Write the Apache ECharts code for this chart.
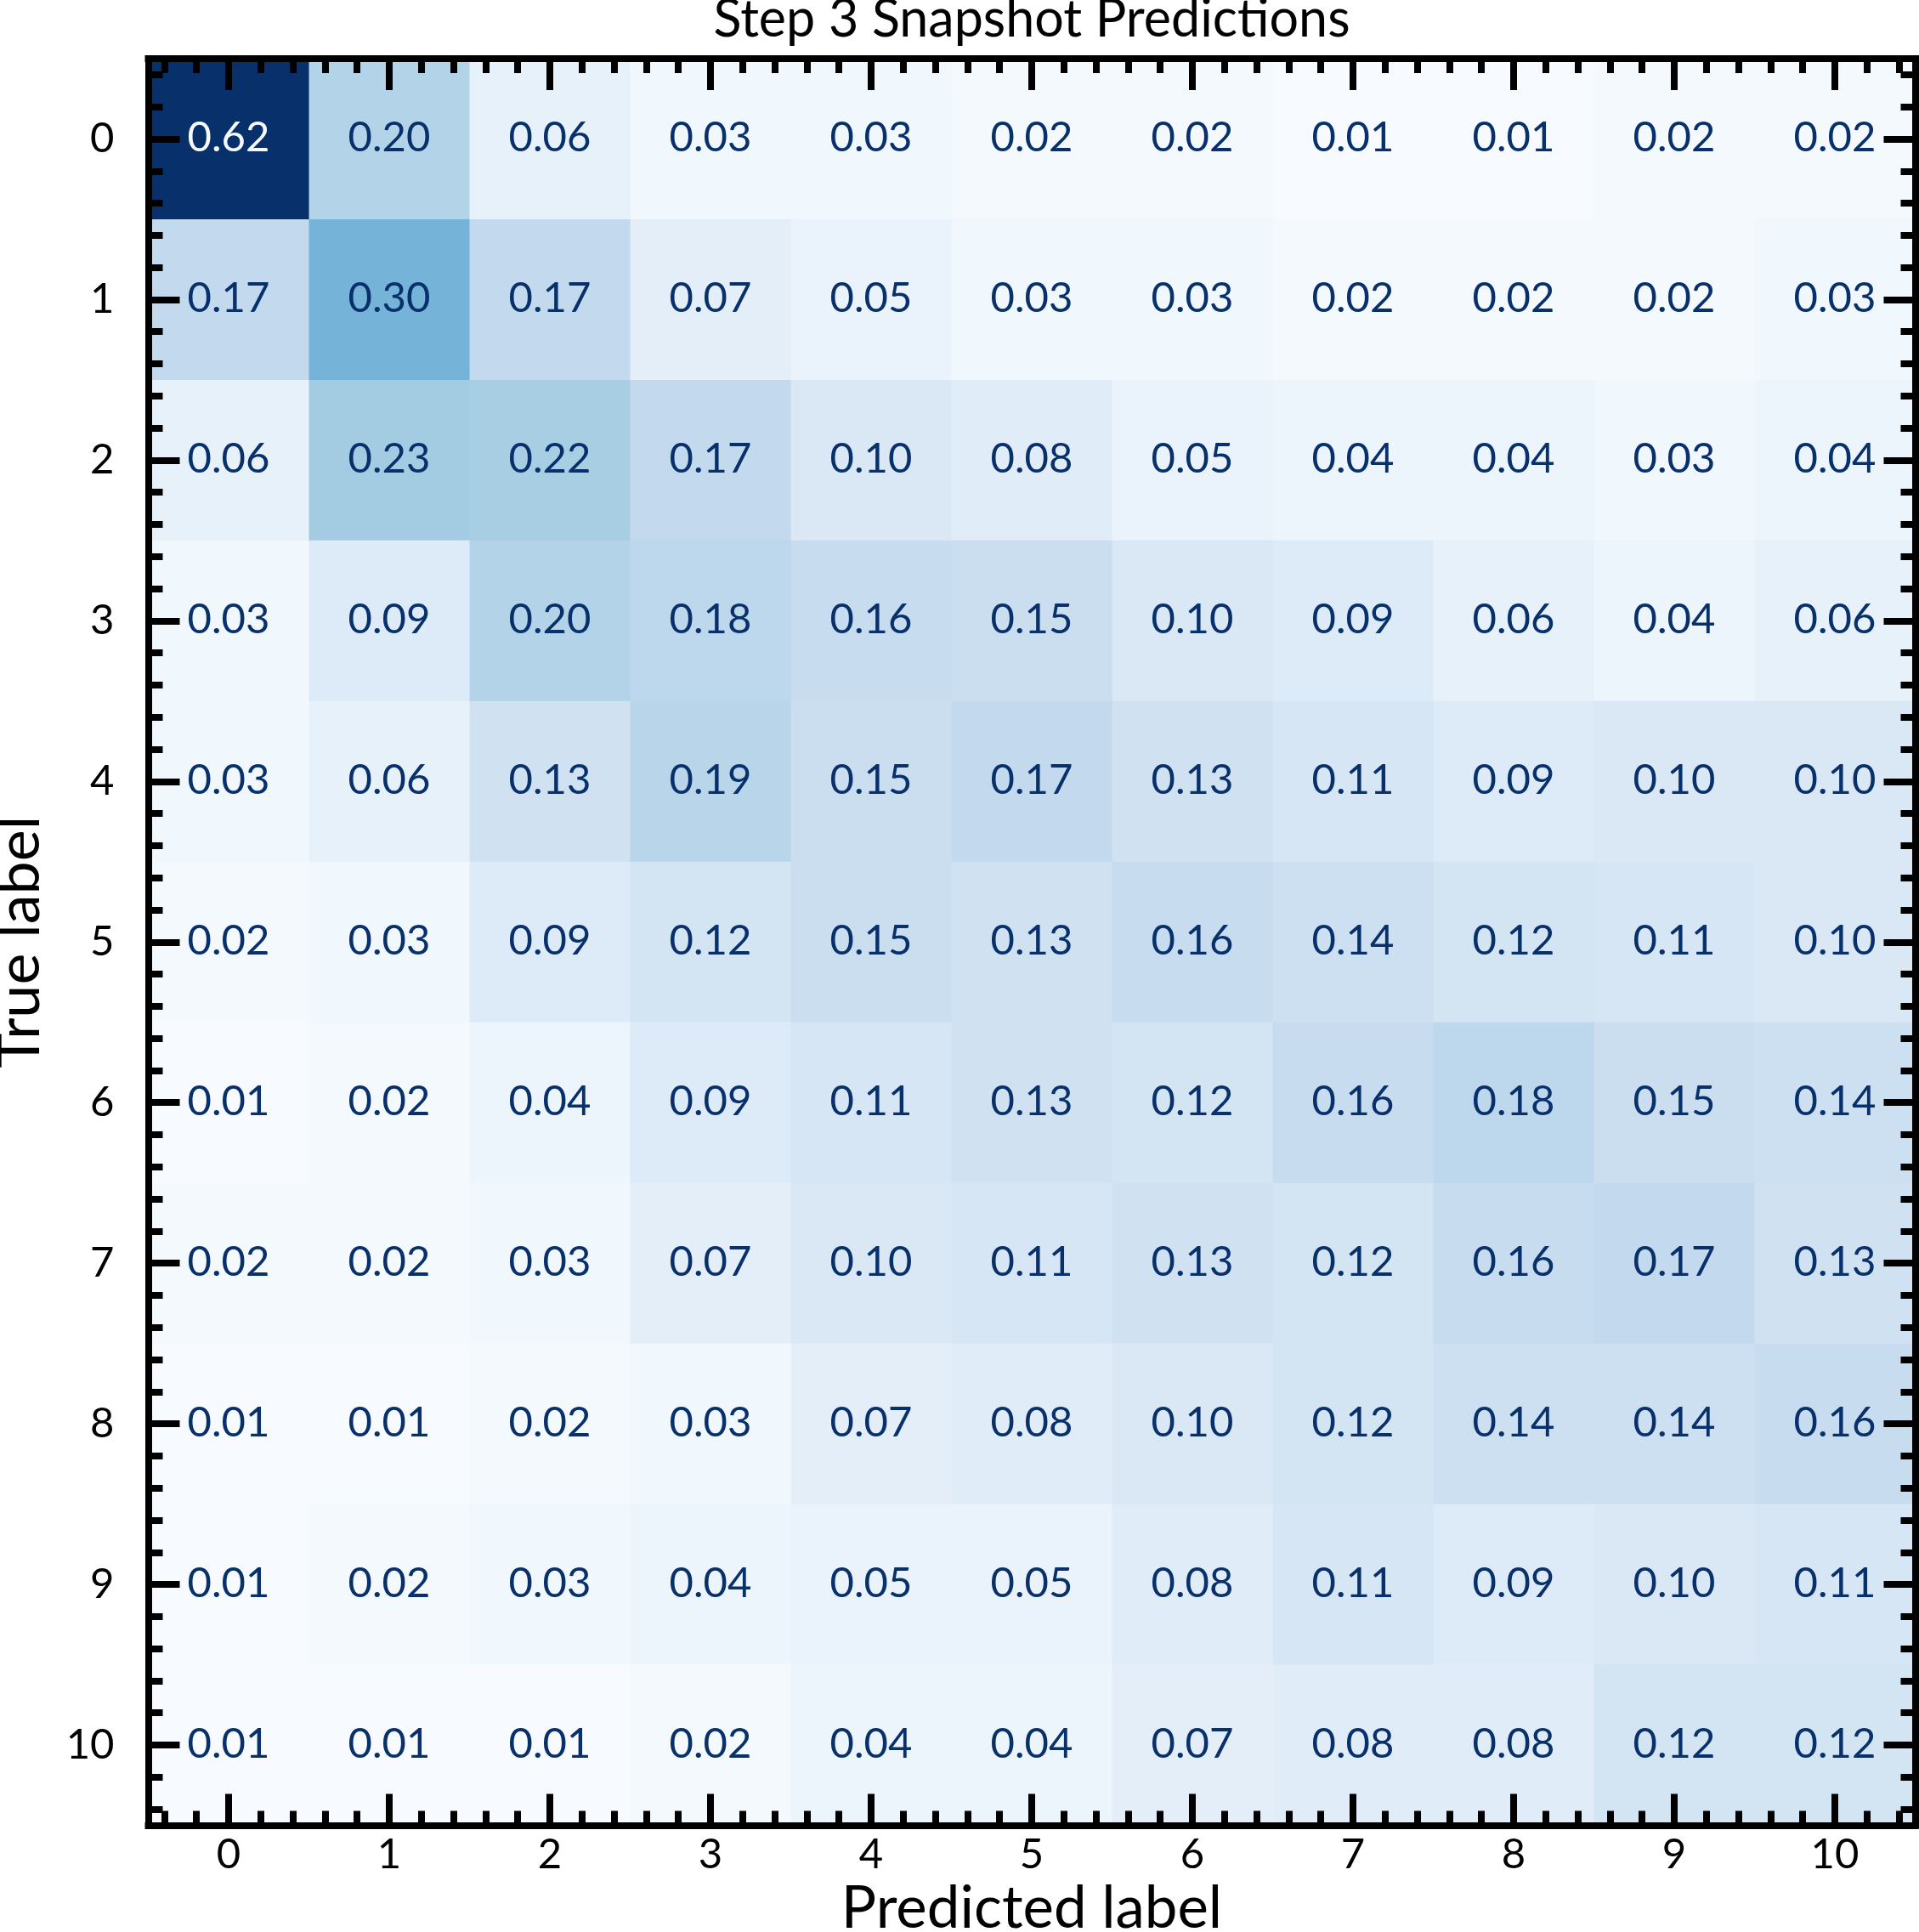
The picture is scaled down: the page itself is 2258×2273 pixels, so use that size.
<!DOCTYPE html>
<html>
<head>
<meta charset="utf-8">
<title>Step 3 Snapshot Predictions</title>
<script src="https://cdn.jsdelivr.net/npm/echarts@6/dist/echarts.min.js"></script>
<style>
html, body { margin: 0; padding: 0; background: #fff; }
#confusion-chart { width: 2258px; height: 2273px; }
</style>
</head>
<body>
<div id="confusion-chart"></div>
<script>
// class labels (same for predicted and true)
var classLabels = ['0', '1', '2', '3', '4', '5', '6', '7', '8', '9', '10'];

// one array per true label, values per predicted label
var row0  = [0.62, 0.20, 0.06, 0.03, 0.03, 0.02, 0.02, 0.01, 0.01, 0.02, 0.02];
var row1  = [0.17, 0.30, 0.17, 0.07, 0.05, 0.03, 0.03, 0.02, 0.02, 0.02, 0.03];
var row2  = [0.06, 0.23, 0.22, 0.17, 0.10, 0.08, 0.05, 0.04, 0.04, 0.03, 0.04];
var row3  = [0.03, 0.09, 0.20, 0.18, 0.16, 0.15, 0.10, 0.09, 0.06, 0.04, 0.06];
var row4  = [0.03, 0.06, 0.13, 0.19, 0.15, 0.17, 0.13, 0.11, 0.09, 0.10, 0.10];
var row5  = [0.02, 0.03, 0.09, 0.12, 0.15, 0.13, 0.16, 0.14, 0.12, 0.11, 0.10];
var row6  = [0.01, 0.02, 0.04, 0.09, 0.11, 0.13, 0.12, 0.16, 0.18, 0.15, 0.14];
var row7  = [0.02, 0.02, 0.03, 0.07, 0.10, 0.11, 0.13, 0.12, 0.16, 0.17, 0.13];
var row8  = [0.01, 0.01, 0.02, 0.03, 0.07, 0.08, 0.10, 0.12, 0.14, 0.14, 0.16];
var row9  = [0.01, 0.02, 0.03, 0.04, 0.05, 0.05, 0.08, 0.11, 0.09, 0.10, 0.11];
var row10 = [0.01, 0.01, 0.01, 0.02, 0.04, 0.04, 0.07, 0.08, 0.08, 0.12, 0.12];

var rows = [row0, row1, row2, row3, row4, row5, row6, row7, row8, row9, row10];

// matplotlib "Blues"
var bluesColors = ['#f7fbff', '#deebf7', '#c6dbef', '#9ecae1', '#6baed6', '#4292c6', '#2171b5', '#08519c', '#08306b'];

var cells = [];
var vMin = Infinity, vMax = -Infinity;
for (var r = 0; r < rows.length; r++) {
    for (var c = 0; c < rows[r].length; c++) {
        cells.push([c, r, rows[r][c]]);
        vMin = Math.min(vMin, rows[r][c]);
        vMax = Math.max(vMax, rows[r][c]);
    }
}
var textThreshold = (vMin + vMax) / 2;

var FONT = 'Lato, "Noto Sans", sans-serif';

function tickLabel(v) {
    return Math.abs(v - Math.round(v)) < 1e-6 ? classLabels[Math.round(v)] || '' : '';
}

function axisBase(extra) {
    var base = {
        type: 'value',
        min: -0.5,
        max: 10.5,
        splitNumber: 11,
        minInterval: 1,
        maxInterval: 1,
        z: 10,
        axisLine: { show: true, onZero: false, lineStyle: { color: '#000', width: 8, cap: 'square' } },
        axisTick: { show: true, inside: true, length: 37, lineStyle: { color: '#000', width: 8 } },
        minorTick: { show: true, splitNumber: 5, length: 17, lineStyle: { color: '#000', width: 8 } },
        splitLine: { show: false },
        minorSplitLine: { show: false },
        axisLabel: { show: false }
    };
    for (var k in extra) base[k] = extra[k];
    return base;
}

function renderCell(params, api) {
    var x = api.value(0), y = api.value(1), v = api.value(2);
    var p0 = api.coord([x - 0.5, y - 0.5]);
    var p1 = api.coord([x + 0.5, y + 0.5]);
    var mid = api.coord([x, y]);
    return {
        type: 'group',
        children: [{
            type: 'rect',
            shape: {
                x: Math.min(p0[0], p1[0]),
                y: Math.min(p0[1], p1[1]),
                width: Math.abs(p1[0] - p0[0]) + 0.6,
                height: Math.abs(p1[1] - p0[1]) + 0.6
            },
            style: { fill: api.visual('color') }
        }, {
            type: 'text',
            x: mid[0],
            y: mid[1] - 1,
            z2: 5,
            style: {
                text: v.toFixed(2),
                fill: v > textThreshold ? '#f7fbff' : '#08306b',
                font: '49px ' + FONT,
                align: 'center',
                verticalAlign: 'middle'
            }
        }]
    };
}

var chart = echarts.init(document.getElementById('confusion-chart'));

var option = {
    backgroundColor: '#fff',
    animation: false,
    title: {
        text: 'Step 3 Snapshot Predictions',
        left: 1214,
        top: -7,
        padding: 0,
        textAlign: 'center',
        textStyle: { fontFamily: FONT, fontSize: 61, fontWeight: 'normal', color: '#000' }
    },
    grid: {
        left: 174.5,
        top: 69,
        width: 2079,
        height: 2078.5,
        containLabel: false,
        outerBoundsMode: 'none'
    },
    visualMap: {
        type: 'continuous',
        show: false,
        min: vMin,
        max: vMax,
        dimension: 2,
        seriesIndex: 0,
        inRange: { color: bluesColors }
    },
    xAxis: [
        axisBase({
            position: 'bottom',
            name: 'Predicted label',
            nameLocation: 'middle',
            nameGap: 64,
            nameTextStyle: { fontFamily: FONT, fontSize: 69, color: '#000' },
            axisLabel: { show: true, margin: 10, fontFamily: FONT, fontSize: 49, color: '#000', formatter: tickLabel }
        }),
        axisBase({ position: 'top' })
    ],
    yAxis: [
        axisBase({
            position: 'left',
            inverse: true,
            name: 'True label',
            nameLocation: 'middle',
            nameGap: 116,
            nameTextStyle: { fontFamily: FONT, fontSize: 70, color: '#000' },
            axisLabel: { show: true, margin: 40, fontFamily: FONT, fontSize: 49, color: '#000', formatter: tickLabel }
        }),
        axisBase({ position: 'right', inverse: true })
    ],
    series: [{
        name: 'Step 3',
        type: 'custom',
        xAxisIndex: 0,
        yAxisIndex: 0,
        renderItem: renderCell,
        data: cells
    }]
};

chart.setOption(option);
window.addEventListener('resize', function () { chart.resize(); });
</script>
</body>
</html>
